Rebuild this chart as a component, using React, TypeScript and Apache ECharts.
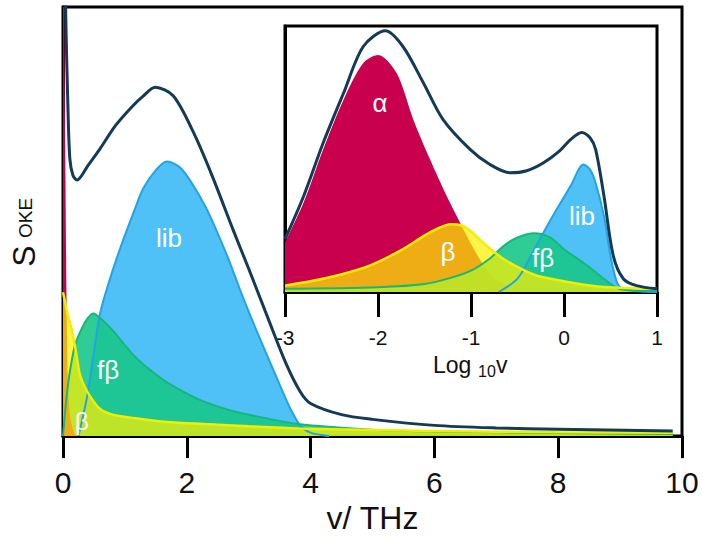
import React, { useEffect, useRef } from "react";
import * as echarts from "echarts";

// ---------- main panel (v in THz) ----------
const mainTicks = [0, 2, 4, 6, 8, 10];
const totalX = [0, 0.03, 0.05, 0.076, 0.11, 0.16, 0.226, 0.4, 0.6, 0.85, 1.13, 1.3, 1.49, 1.78, 2.1, 2.4, 2.75, 3.0, 3.3, 3.6, 3.83, 4.0, 4.5, 5, 6, 7, 8, 9.85];
const totalY = [140, 110, 94, 78.6, 64.7, 60.8, 59.7, 63, 67, 72.4, 77, 79.3, 81.3, 79.3, 71, 61, 48, 39, 27.9, 17, 10.4, 7.6, 5.0, 3.9, 2.5, 1.9, 1.6, 1.2];
const libX = [0.25, 0.4, 0.6, 0.8, 0.97, 1.15, 1.3, 1.5, 1.68, 1.9, 2.1, 2.3, 2.48, 2.68, 2.86, 3.1, 3.3, 3.5, 3.67, 3.83, 4.0, 4.3];
const libY = [0, 10, 28.6, 38.5, 45.6, 52.5, 57.8, 62, 64, 62.5, 58.5, 53.5, 47.9, 41, 34.1, 25.5, 18.7, 12, 6.5, 2.5, 0.8, 0];
const fbX = [0, 0.05, 0.1, 0.19, 0.3, 0.4, 0.49, 0.6, 0.81, 1.13, 1.4, 1.68, 2.2, 2.7, 3.0, 3.8, 5, 6, 8, 9.85];
const fbY = [0, 8, 14, 21, 25, 27.5, 28.6, 27.5, 24.5, 19, 15.5, 12.5, 8.5, 6, 5, 2.8, 1.5, 1.1, 0.7, 0.5];
const bX = [0, 0.03, 0.08, 0.14, 0.2, 0.27, 0.35, 0.46, 0.6, 0.8, 1.2, 1.68, 2.3, 3.0, 3.8, 5, 6, 8, 9.85];
const bY = [33.5, 31.5, 28, 24.9, 20.5, 14.5, 11.5, 8.8, 6.3, 5.0, 4.1, 3.3, 2.8, 2.3, 1.8, 1.4, 1.2, 0.9, 0.8];
const aX = [0, 0.02, 0.04, 0.06, 0.08, 0.12, 0.2];
const aY = [140, 100, 60, 28, 12, 4, 0];

// ---------- inset (log10 v) ----------
const insetTicks = [-3, -2, -1, 0, 1];
const iTotalX = [-3, -2.8, -2.59, -2.37, -2.16, -1.92, -1.73, -1.51, -1.3, -1.01, -0.8, -0.58, -0.4, -0.22, -0.05, 0.07, 0.19, 0.28, 0.34, 0.43, 0.53, 0.64, 0.78, 1.0];
const iTotalY = [19.9, 36, 56, 74.8, 92.2, 98.2, 92.2, 78.5, 64.8, 53.6, 48, 44.8, 45.6, 48.6, 53, 57.3, 60, 58, 53.6, 36, 13.6, 4.9, 2.4, 1.2];
const iAlphaX = [-3, -2.8, -2.59, -2.37, -2.16, -2.0, -1.8, -1.62, -1.44, -1.26, -1.12, -1.0, -0.9, -0.8, -0.65, -0.5, -0.3];
const iAlphaY = [18.7, 33.6, 53.6, 72.3, 86, 89.1, 82.3, 64.8, 49.8, 36, 26.2, 18, 12, 7, 3, 1, 0];
const iBetaX = [-3, -2.7, -2.45, -2.09, -1.73, -1.51, -1.35, -1.22, -1.1, -1.01, -0.83, -0.65, -0.45, -0.29, 0.07, 0.43, 1.0];
const iBetaY = [2.4, 4.2, 6.1, 9.9, 16.1, 21, 24, 25.5, 25, 23, 17.3, 12.4, 8.5, 6.1, 3.6, 1.9, 1.2];
const iFbX = [-3, -2, -1.5, -1.2, -1.0, -0.8, -0.65, -0.5, -0.32, -0.15, 0, 0.25, 0.43, 0.6, 0.8, 1.0];
const iFbY = [1.2, 1.8, 3, 5.5, 8, 12.5, 17.3, 20.5, 22.1, 20.5, 16.1, 9.9, 4.9, 1.1, 0.6, 0.5];
const iLibX = [-0.7, -0.5, -0.35, -0.22, -0.08, 0.07, 0.21, 0.28, 0.34, 0.43, 0.5, 0.57, 0.64, 0.8, 1.0];
const iLibY = [0, 5, 14, 22.4, 31, 39.8, 47.9, 46, 41, 28.6, 13.6, 3.6, 1, 0.3, 0];

const FONT = "'Liberation Sans', Arial, Helvetica, sans-serif";
const C = {
  total: "#133a57",
  alpha: "#c8004e",
  beta: "#f2ee00",
  betaFill: "rgba(252,240,0,0.72)",
  fb: "#14b87c",
  fbFill: "rgba(24,198,138,0.9)",
  lib: "#22a3e6",
  libFill: "#4fc1f7",
};

const zip = (xs: number[], ys: number[]) => xs.map((x, i) => [x, ys[i]]);

function area(name: string, xs: number[], ys: number[], line: string, fill: string, idx: number, lw = 2) {
  return {
    type: "line",
    name,
    xAxisIndex: idx,
    yAxisIndex: idx,
    data: zip(xs, ys),
    smooth: 0.3,
    showSymbol: false,
    symbol: "none",
    lineStyle: { color: line, width: lw },
    areaStyle: { color: fill, opacity: 1, origin: "start" },
    clip: true,
  };
}

function totalLine(xs: number[], ys: number[], idx: number) {
  return {
    type: "line",
    name: "total",
    xAxisIndex: idx,
    yAxisIndex: idx,
    data: zip(xs, ys),
    smooth: 0.3,
    showSymbol: false,
    symbol: "none",
    lineStyle: { color: C.total, width: 3 },
    clip: true,
    z: 5,
  };
}

function whiteText(text: string, x: number, y: number, size = 26) {
  return {
    type: "text",
    x,
    y,
    z: 100,
    style: { text, fill: "#fff", fontSize: size, fontFamily: FONT, align: "center", verticalAlign: "middle" },
  };
}

export default function App() {
  const ref = useRef<HTMLDivElement>(null);
  useEffect(() => {
    if (!ref.current) return;
    const chart = echarts.init(ref.current, null, { renderer: "svg" });
    const axisCommon = (idx: number, min: number, max: number, ticks: number[], fs: number, margin: number, tickLen: number) => ({
      type: "value",
      gridIndex: idx,
      min,
      max,
      interval: ticks[1] - ticks[0],
      axisLine: { show: true, onZero: false, lineStyle: { color: "#000", width: 3 } },
      axisTick: { show: true, inside: false, length: tickLen, lineStyle: { color: "#000", width: 3 } },
      axisLabel: { fontSize: fs, color: "#111", fontFamily: FONT, margin, verticalAlign: "middle", showMinLabel: true, showMaxLabel: true },
      splitLine: { show: false },
    });
    const yCommon = (idx: number) => ({
      type: "value",
      gridIndex: idx,
      min: 0,
      max: 100,
      axisLine: { show: true, onZero: false, lineStyle: { color: "#000", width: 3 } },
      axisTick: { show: false },
      axisLabel: { show: false },
      splitLine: { show: false },
    });
    chart.setOption({
      animation: false,
      backgroundColor: "#fff",
      grid: [
        { left: 63, right: 21, top: 7, bottom: 98, show: true, borderColor: "#000", borderWidth: 3, backgroundColor: "transparent" },
        { left: 285, right: 46, top: 26, bottom: 247, show: true, borderColor: "#000", borderWidth: 3, backgroundColor: "#fff" },
      ],
      xAxis: [
        {
          ...axisCommon(0, 0, 10, mainTicks, 30, 46, 22),
          name: "v/ THz",
          nameLocation: "middle",
          nameGap: 80,
          nameTextStyle: { fontSize: 32, color: "#111", fontFamily: FONT, verticalAlign: "middle" },
        },
        axisCommon(1, -3, 1, insetTicks, 21, 45, 25),
      ],
      yAxis: [yCommon(0), yCommon(1)],
      graphic: [
        { type: "text", x: 24, y: 256, rotation: Math.PI / 2, z: 100, style: { text: "S", fontSize: 32, fill: "#111", fontFamily: FONT, align: "center", verticalAlign: "middle" } },
        { type: "text", x: 25, y: 218, rotation: Math.PI / 2, z: 100, style: { text: "OKE", fontSize: 19, fill: "#111", fontFamily: FONT, align: "center", verticalAlign: "middle" } },
        { type: "text", x: 433, y: 365, z: 100, style: { text: "Log", fontSize: 23, fill: "#111", fontFamily: FONT, align: "left", verticalAlign: "middle" } },
        { type: "text", x: 478, y: 371.5, z: 100, style: { text: "10", fontSize: 16, fill: "#111", fontFamily: FONT, align: "left", verticalAlign: "middle" } },
        { type: "text", x: 496, y: 365, z: 100, style: { text: "v", fontSize: 23, fill: "#111", fontFamily: FONT, align: "left", verticalAlign: "middle" } },
        whiteText("lib", 169, 238),
        whiteText("fβ", 108, 370),
        whiteText("β", 82, 421, 24),
        whiteText("α", 380, 103),
        whiteText("β", 448, 252),
        whiteText("fβ", 543, 258),
        whiteText("lib", 582, 216),
      ],
      series: [
        area("lib", libX, libY, C.lib, C.libFill, 0),
        area("fβ", fbX, fbY, C.fb, C.fbFill, 0),
        area("α", aX, aY, C.alpha, C.alpha, 0, 0),
        area("β", bX, bY, C.beta, C.betaFill, 0, 2.5),
        totalLine(totalX, totalY, 0),
        area("α", iAlphaX, iAlphaY, C.alpha, C.alpha, 1, 0),
        area("lib", iLibX, iLibY, C.lib, C.libFill, 1),
        area("fβ", iFbX, iFbY, C.fb, C.fbFill, 1),
        area("β", iBetaX, iBetaY, C.beta, C.betaFill, 1, 2.5),
        totalLine(iTotalX, iTotalY, 1),
      ],
    });
    return () => chart.dispose();
  }, []);
  return <div ref={ref} style={{ position: "absolute", left: 0, top: 0, width: 703, height: 539 }} />;
}
